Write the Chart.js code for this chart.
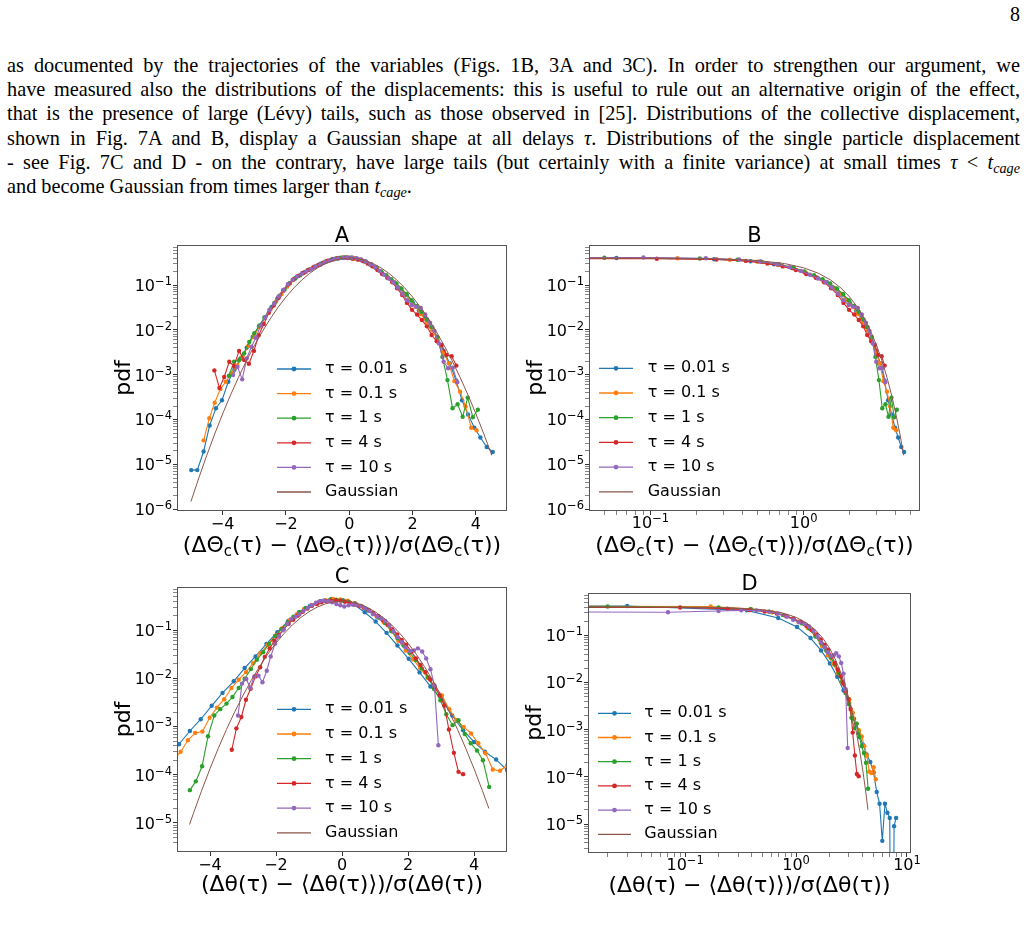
<!DOCTYPE html>
<html>
<head>
<meta charset="utf-8">
<script src="https://cdn.jsdelivr.net/npm/chart.js@4.4.1/dist/chart.umd.min.js"></script>
<style>
  body { margin: 0; background: #fff; width: 1029px; height: 928px; overflow: hidden; position: relative; }
  .pg { position: absolute; right: 9px; top: 3px; font: 20px "Liberation Serif", serif; color: #000; }
  .ln { position: absolute; left: 7px; width: 1013px; height: 24.33px; font: 20.3px/24.33px "Liberation Serif", serif;
        color: #000; text-align: justify; text-align-last: justify; }
  .ln.last { text-align-last: left; }
  .ln sub { font-size: 0.7em; vertical-align: -0.25em; line-height: 0; }
  canvas { position: absolute; }
</style>
</head>
<body>
<div class="pg">8</div>
<div class="ln" style="top:52.7px">as documented by the trajectories of the variables (Figs. 1B, 3A and 3C). In order to strengthen our argument, we</div>
<div class="ln" style="top:77.0px">have measured also the distributions of the displacements: this is useful to rule out an alternative origin of the effect,</div>
<div class="ln" style="top:101.3px">that is the presence of large (Lévy) tails, such as those observed in [25]. Distributions of the collective displacement,</div>
<div class="ln" style="top:125.7px">shown in Fig. 7A and B, display a Gaussian shape at all delays <i>τ</i>. Distributions of the single particle displacement</div>
<div class="ln" style="top:150.0px">- see Fig. 7C and D - on the contrary, have large tails (but certainly with a finite variance) at small times <i>τ</i> &lt; <i>t</i><sub><i>cage</i></sub></div>
<div class="ln last" style="top:174.3px">and become Gaussian from times larger than <i>t</i><sub><i>cage</i></sub>.</div>

<canvas id="chartA" width="425" height="340" style="left:95px;top:222px"></canvas>
<canvas id="chartB" width="425" height="340" style="left:515px;top:222px"></canvas>
<canvas id="chartC" width="425" height="340" style="left:95px;top:562px"></canvas>
<canvas id="chartD" width="425" height="340" style="left:515px;top:562px"></canvas>

<script>
// collective displacement (panels A and B)
const A_x001 = [-4.99,-4.80,-4.60,-4.41,-4.21,-4.02,-3.82,-3.63,-3.44,-3.24,-3.05,-2.85,-2.66,-2.46,-2.27,-2.08,-1.88,-1.69,-1.49,-1.30,-1.10,-0.91,-0.72,-0.52,-0.33,-0.13,0.06,0.26,0.45,0.64,0.84,1.03,1.23,1.42,1.62,1.81,2.00,2.20,2.39,2.59,2.78,2.98,3.17,3.37,3.56,3.75,3.95,4.14,4.34,4.53];
const A_y001 = [7.5e-6,7.5e-6,1.95e-5,7.4e-5,1.8e-4,2.7e-4,7.0e-4,1.3e-3,2.3e-3,4.0e-3,7.0e-3,0.012,0.019,0.032,0.050,0.077,0.110,0.145,0.183,0.218,0.255,0.300,0.340,0.375,0.400,0.410,0.400,0.375,0.340,0.290,0.240,0.185,0.145,0.115,0.084,0.060,0.041,0.027,0.018,0.0115,6.8e-3,3.4e-3,1.8e-3,7.5e-4,2.7e-4,1.3e-4,6.6e-5,4.0e-5,2.45e-5,1.9e-5];
const A_x01 = [-4.60,-4.42,-4.25,-4.07,-3.90,-3.72,-3.54,-3.37,-3.19,-3.02,-2.84,-2.66,-2.49,-2.31,-2.14,-1.96,-1.78,-1.61,-1.43,-1.26,-1.08,-0.90,-0.73,-0.55,-0.38,-0.20,-0.02,0.15,0.33,0.50,0.68,0.86,1.03,1.21,1.38,1.56,1.74,1.91,2.09,2.26,2.44,2.62,2.79,2.97,3.14,3.32,3.50,3.67,3.85,4.02];
const A_y01 = [3.45e-5,1.07e-4,2.38e-4,4.8e-4,7.0e-4,1.1e-3,1.6e-3,2.6e-3,4.4e-3,7.2e-3,0.0118,0.0185,0.029,0.043,0.063,0.092,0.128,0.16,0.19,0.22,0.255,0.29,0.335,0.37,0.395,0.41,0.41,0.395,0.365,0.33,0.28,0.235,0.19,0.148,0.118,0.088,0.064,0.047,0.033,0.0225,0.015,0.0098,6.0e-3,3.1e-3,1.8e-3,7.2e-4,4.2e-4,2.0e-4,6.6e-5,5.8e-5];
const A_x1 = [-3.80,-3.64,-3.48,-3.32,-3.16,-3.00,-2.84,-2.68,-2.52,-2.36,-2.20,-2.04,-1.88,-1.71,-1.55,-1.39,-1.23,-1.07,-0.91,-0.75,-0.59,-0.43,-0.27,-0.11,0.05,0.21,0.37,0.53,0.69,0.86,1.01,1.17,1.33,1.49,1.65,1.81,1.97,2.13,2.29,2.46,2.62,2.78,2.94,3.10,3.26,3.42,3.58,3.74,3.90,4.06];
const A_y1 = [9.5e-4,1.95e-3,2.1e-3,3.0e-3,5.4e-3,8.4e-3,0.0125,0.019,0.028,0.040,0.058,0.080,0.11,0.14,0.165,0.195,0.225,0.255,0.29,0.33,0.36,0.39,0.405,0.41,0.405,0.39,0.365,0.33,0.29,0.245,0.20,0.165,0.135,0.108,0.083,0.063,0.046,0.034,0.025,0.017,0.0115,7.0e-3,2.5e-3,7.6e-4,1.8e-4,2.2e-4,1.16e-4,3.1e-4,1.13e-4,1.66e-4];
const A_x4 = [-4.26,-4.10,-3.95,-3.79,-3.64,-3.48,-3.32,-3.17,-3.01,-2.86,-2.70,-2.54,-2.39,-2.23,-2.08,-1.92,-1.76,-1.61,-1.45,-1.30,-1.14,-0.98,-0.83,-0.67,-0.52,-0.36,-0.20,-0.05,0.11,0.27,0.42,0.58,0.73,0.89,1.04,1.20,1.36,1.51,1.67,1.82,1.98,2.14,2.29,2.45,2.60,2.76,2.92,3.07,3.23,3.38];
const A_y4 = [1.25e-3,5.1e-4,8.9e-4,1.95e-3,1.56e-3,3.4e-3,2.13e-3,1.76e-3,3.4e-3,7.6e-3,0.0135,0.024,0.035,0.052,0.075,0.104,0.135,0.16,0.185,0.215,0.245,0.28,0.315,0.35,0.375,0.395,0.405,0.40,0.385,0.37,0.345,0.30,0.26,0.215,0.175,0.145,0.115,0.085,0.060,0.040,0.028,0.022,0.0166,0.012,7.7e-3,5.6e-3,4.6e-3,2.75e-3,2.6e-3,1.6e-3];
const A_x10 = [-3.67,-3.53,-3.38,-3.24,-3.09,-2.95,-2.80,-2.66,-2.51,-2.37,-2.23,-2.08,-1.94,-1.79,-1.65,-1.50,-1.36,-1.21,-1.07,-0.92,-0.78,-0.63,-0.49,-0.35,-0.20,-0.06,0.09,0.23,0.38,0.52,0.67,0.81,0.96,1.10,1.24,1.39,1.53,1.68,1.82,1.97,2.11,2.26,2.40,2.55,2.69,2.83,2.98,3.12,3.27,3.41];
const A_y10 = [9.9e-4,1.5e-3,7.9e-4,2.3e-3,4.2e-3,6.7e-3,0.0125,0.019,0.028,0.039,0.056,0.078,0.105,0.13,0.155,0.178,0.20,0.225,0.255,0.285,0.32,0.35,0.375,0.39,0.40,0.41,0.41,0.395,0.37,0.335,0.29,0.25,0.205,0.17,0.14,0.115,0.088,0.064,0.046,0.036,0.033,0.031,0.022,0.0145,9.5e-3,5.0e-3,1.95e-3,1.4e-3,1.43e-3,6.8e-4];
const gaussXA = [-5.0,-4.75,-4.5,-4.25,-4.0,-3.75,-3.5,-3.25,-3.0,-2.75,-2.5,-2.25,-2.0,-1.75,-1.5,-1.25,-1.0,-0.75,-0.5,-0.25,0,0.05,0.1,0.25,0.5,0.75,1.0,1.25,1.5,1.75,2.0,2.25,2.5,2.75,3.0,3.25,3.5,3.75,4.0,4.25,4.5];
const gaussYA = [1.49e-6,5.03e-6,1.60e-5,4.77e-5,1.34e-4,3.53e-4,8.73e-4,2.03e-3,4.43e-3,9.09e-3,0.0175,0.0317,0.0540,0.0863,0.1295,0.1826,0.2420,0.3011,0.3521,0.3867,0.3989,0.3984,0.3970,0.3867,0.3521,0.3011,0.2420,0.1826,0.1295,0.0863,0.0540,0.0317,0.0175,9.09e-3,4.43e-3,2.03e-3,8.73e-4,3.53e-4,1.34e-4,4.77e-5,1.60e-5];

// single particle displacement (panels C and D)
const C_x001 = [-5.27,-4.94,-4.61,-4.28,-3.95,-3.62,-3.28,-2.95,-2.62,-2.29,-1.96,-1.63,-1.30,-0.97,-0.64,-0.31,0.03,0.36,0.69,1.02,1.35,1.68,2.02,2.35,2.68,3.01,3.34,3.67,4.00,4.33,4.67,5.00,5.33,5.66,5.99,6.33,6.66,6.99,7.32,7.65,7.98];
const C_y001 = [2.3e-4,4.3e-4,8.1e-4,1.42e-3,2.7e-3,5.0e-3,8.7e-3,0.0164,0.0285,0.052,0.091,0.155,0.235,0.32,0.40,0.445,0.42,0.34,0.235,0.151,0.088,0.048,0.0255,0.0133,6.8e-3,3.7e-3,1.7e-3,8.4e-4,4.8e-4,3.0e-4,2.07e-4,1.25e-4,4.8e-5,2.7e-5,4.4e-6,2.7e-5,1.74e-5,1.35e-5,0,9.0e-6,1.35e-5];
const C_x01 = [-5.11,-4.89,-4.67,-4.45,-4.23,-4.01,-3.79,-3.57,-3.35,-3.13,-2.91,-2.69,-2.47,-2.25,-2.03,-1.81,-1.59,-1.37,-1.15,-0.93,-0.71,-0.49,-0.27,-0.05,0.17,0.39,0.61,0.83,1.05,1.27,1.49,1.71,1.93,2.15,2.37,2.59,2.81,3.03,3.25,3.47,3.69,3.91,4.13,4.35,4.57,4.79,5.01,5.23];
const C_y01 = [2.0e-4,3.0e-4,5.2e-4,7.4e-4,7.9e-4,1.53e-3,2.47e-3,3.7e-3,6.3e-3,9.4e-3,0.0135,0.0207,0.0334,0.05,0.077,0.11,0.16,0.215,0.275,0.33,0.38,0.42,0.445,0.435,0.41,0.365,0.31,0.255,0.195,0.145,0.097,0.06,0.038,0.025,0.0162,0.0103,6.7e-3,4.4e-3,2.3e-3,1.35e-3,9.8e-4,7.2e-4,4.5e-4,2.8e-4,1.29e-4,1.21e-4,1.6e-4,8.9e-5];
const C_x1 = [-4.61,-4.43,-4.24,-4.06,-3.87,-3.69,-3.50,-3.32,-3.13,-2.95,-2.76,-2.58,-2.39,-2.21,-2.02,-1.84,-1.65,-1.47,-1.28,-1.10,-0.91,-0.73,-0.54,-0.36,-0.17,0.02,0.20,0.39,0.57,0.76,0.94,1.13,1.31,1.50,1.68,1.87,2.05,2.24,2.42,2.61,2.79,2.98,3.16,3.35,3.53,3.72,3.90,4.09,4.27,4.46];
const C_y1 = [4.8e-5,7.3e-5,1.5e-4,6.3e-4,1.7e-3,2.3e-3,3.0e-3,4.1e-3,6.3e-3,9.8e-3,0.0156,0.0243,0.035,0.052,0.075,0.105,0.145,0.19,0.235,0.29,0.33,0.37,0.41,0.43,0.43,0.41,0.39,0.36,0.32,0.27,0.225,0.18,0.14,0.095,0.068,0.048,0.034,0.024,0.016,0.0105,6.0e-3,3.5e-3,1.8e-3,1.07e-3,1.35e-3,7.0e-4,4.5e-4,3.2e-4,2.0e-4,5.6e-5];
const C_x4 = [-3.34,-3.20,-3.05,-2.91,-2.77,-2.62,-2.48,-2.34,-2.19,-2.05,-1.91,-1.77,-1.62,-1.48,-1.34,-1.19,-1.05,-0.91,-0.76,-0.62,-0.48,-0.34,-0.19,-0.05,0.09,0.24,0.38,0.52,0.67,0.81,0.95,1.10,1.24,1.38,1.52,1.67,1.81,1.95,2.10,2.24,2.38,2.53,2.67,2.81,2.96,3.10,3.24,3.39,3.53,3.67];
const C_y4 = [3.3e-4,9.2e-4,1.58e-3,3.6e-3,6.1e-3,0.011,0.017,0.028,0.042,0.06,0.08,0.105,0.135,0.165,0.2,0.24,0.28,0.32,0.35,0.38,0.40,0.41,0.415,0.41,0.39,0.37,0.345,0.32,0.29,0.26,0.225,0.195,0.16,0.13,0.105,0.082,0.063,0.05,0.036,0.026,0.019,0.0135,9.5e-3,6.5e-3,4.5e-3,2.75e-3,8.7e-4,2.85e-4,1.15e-4,1.03e-4];
const C_x10 = [-3.15,-3.03,-2.90,-2.78,-2.66,-2.53,-2.41,-2.28,-2.16,-2.03,-1.91,-1.79,-1.66,-1.54,-1.41,-1.29,-1.17,-1.04,-0.92,-0.79,-0.67,-0.55,-0.42,-0.30,-0.17,-0.05,0.07,0.20,0.32,0.44,0.57,0.69,0.82,0.94,1.06,1.19,1.31,1.44,1.56,1.68,1.81,1.93,2.06,2.18,2.30,2.43,2.55,2.68,2.80,2.92];
const C_y10 = [1.7e-3,7.8e-3,9.7e-3,6.4e-3,0.011,0.0114,8.3e-3,0.0144,0.0285,0.052,0.075,0.10,0.135,0.17,0.19,0.215,0.25,0.29,0.33,0.37,0.40,0.41,0.40,0.38,0.35,0.33,0.31,0.33,0.34,0.34,0.32,0.29,0.25,0.215,0.19,0.175,0.155,0.125,0.095,0.072,0.056,0.044,0.037,0.038,0.042,0.036,0.026,0.0155,7.2e-3,4.1e-4];
const gaussXC = [-4.62,-4.5,-4.25,-4.0,-3.75,-3.5,-3.25,-3.0,-2.75,-2.5,-2.25,-2.0,-1.75,-1.5,-1.25,-1.0,-0.75,-0.5,-0.25,0,0.05,0.1,0.25,0.5,0.75,1.0,1.25,1.5,1.75,2.0,2.25,2.5,2.75,3.0,3.25,3.5,3.75,4.0,4.25,4.45];
const gaussYC = [9.3e-6,1.60e-5,4.77e-5,1.34e-4,3.53e-4,8.73e-4,2.03e-3,4.43e-3,9.09e-3,0.0175,0.0317,0.0540,0.0863,0.1295,0.1826,0.2420,0.3011,0.3521,0.3867,0.3989,0.3984,0.3970,0.3867,0.3521,0.3011,0.2420,0.1826,0.1295,0.0863,0.0540,0.0317,0.0175,9.09e-3,4.43e-3,2.03e-3,8.73e-4,3.53e-4,1.34e-4,4.77e-5,2.0e-5];

const seriesLabels = ['τ = 0.01 s', 'τ = 0.1 s', 'τ = 1 s', 'τ = 4 s', 'τ = 10 s', 'Gaussian'];
const seriesColors = ['#1f77b4', '#ff7f0e', '#2ca02c', '#d62728', '#9467bd', '#8c564b'];
const linTicks = [-4, -2, 0, 2, 4];

const labelA = [['(ΔΘ', 0], ['c', 1], ['(τ) − ⟨ΔΘ', 0], ['c', 1], ['(τ)⟩)/σ(ΔΘ', 0], ['c', 1], ['(τ))', 0]];
const labelC = [['(Δθ(τ) − ⟨Δθ(τ)⟩)/σ(Δθ(τ))', 0]];

Chart.defaults.font.family = "'DejaVu Sans', sans-serif";

// zero / negative values cannot sit on a log axis: push them far off the plot
function pts(xs, ys) {
  return xs.map((x, i) => ({ x: x, y: ys[i] > 0 ? ys[i] : 1e-12 }));
}
// log-x panels: keep the positive side, plus the last negative bin pushed off to the left
function posPts(xs, ys) {
  const out = [];
  let lastNeg = -1;
  xs.forEach((x, i) => { if (x <= 0) lastNeg = i; });
  if (lastNeg >= 0) out.push({ x: 1e-6, y: ys[lastNeg] });
  xs.forEach((x, i) => { if (x > 0) out.push({ x: x, y: ys[i] > 0 ? ys[i] : 1e-12 }); });
  return out;
}

function buildSets(xsList, ysList, gx, gy, logX) {
  const mk = logX ? posPts : pts;
  const sets = xsList.map((xs, i) => ({
    label: seriesLabels[i],
    data: mk(xs, ysList[i]),
    borderColor: seriesColors[i],
    backgroundColor: seriesColors[i],
    borderWidth: 1.1,
    pointRadius: 2.2,
    pointBorderWidth: 0,
    pointHoverRadius: 0,
    order: 6 - i
  }));
  sets.push({
    label: seriesLabels[5], data: mk(gx, gy),
    borderColor: seriesColors[5], backgroundColor: seriesColors[5],
    borderWidth: 1, pointRadius: 0, order: 0
  });
  return sets;
}

function isDecade(v) { const l = Math.log10(v); return Math.abs(l - Math.round(l)) < 1e-6; }
function isNice(v) {
  if (!(v > 0)) return false;
  const e = Math.floor(Math.log10(v) + 1e-9);
  const m = v / Math.pow(10, e);
  return Math.abs(m - Math.round(m)) < 1e-6;
}

function logAxis(min, max, fit) {
  return {
    type: 'logarithmic', min: min, max: max,
    afterBuildTicks: s => { s.ticks = s.ticks.filter(t => isNice(t.value)); },
    afterFit: fit,
    border: { display: false },
    grid: {
      drawOnChartArea: false, tickLength: 4, tickColor: '#333',
      tickWidth: c => (c.tick && isDecade(c.tick.value)) ? 1 : 0.6
    },
    // decade labels (10 with a raised exponent) are drawn by panelDecor
    ticks: { autoSkip: false, maxRotation: 0, minRotation: 0, padding: 0, callback: () => '' }
  };
}

function linAxis(min, max, fit) {
  return {
    type: 'linear', min: min, max: max, afterFit: fit,
    afterBuildTicks: s => { s.ticks = linTicks.map(v => ({ value: v })); },
    border: { display: false },
    grid: { drawOnChartArea: false, tickLength: 4, tickColor: '#333', tickWidth: 1 },
    ticks: {
      autoSkip: false, maxRotation: 0, padding: 0, color: '#000', font: { size: 16 },
      callback: v => String(v).replace('-', '−')
    }
  };
}

// titles, axis labels, decade tick labels, frame and the in-plot legend
const decor = {
  chartA: { title: 'A', xLabel: labelA, titleDy: -3.3, yLabelDx: -53, xLabelDy: 41, lg: { x0: 100, x1: 134, tx: 148, y0: 124, dy: 24.6 } },
  chartB: { title: 'B', xLabel: labelA, titleDy: -3.3, yLabelDx: -53, xLabelDy: 41, lg: { x0: 10, x1: 44, tx: 58.7, y0: 123.3, dy: 24.7 } },
  chartC: { title: 'C', xLabel: labelC, titleDy: -3.7, yLabelDx: -53, xLabelDy: 38.5, lg: { x0: 100, x1: 134, tx: 148, y0: 122.3, dy: 24.7 } },
  chartD: { title: 'D', xLabel: labelC, titleDy: -3, yLabelDx: -53, xLabelDy: 39, lg: { x0: 10, x1: 43, tx: 56.3, y0: 120.3, dy: 24.2 } }
};

const MAIN = "16px 'DejaVu Sans'", EXP = "11.5px 'DejaVu Sans'";
function drawDecade(ctx, v, x, base, align) {
  const e = String(Math.round(Math.log10(v))).replace('-', '−');
  ctx.font = MAIN;
  const w1 = ctx.measureText('10').width;
  ctx.font = EXP;
  const w2 = ctx.measureText(e).width;
  const x0 = align === 'right' ? x - w1 - w2 : x - (w1 + w2) / 2;
  ctx.textAlign = 'left';
  ctx.textBaseline = 'alphabetic';
  ctx.font = MAIN;
  ctx.fillText('10', x0, base);
  ctx.font = EXP;
  ctx.fillText(e, x0 + w1, base - 6);
}

const panelDecor = {
  id: 'panelDecor',
  afterDraw(chart) {
    const o = decor[chart.canvas.id];
    const ctx = chart.ctx;
    const a = chart.chartArea;
    ctx.save();
    ctx.strokeStyle = '#555';
    ctx.lineWidth = 1;
    ctx.strokeRect(Math.round(a.left) + 0.5, Math.round(a.top) + 0.5, Math.round(a.width) - 1, Math.round(a.height) - 1);

    ctx.fillStyle = '#000';
    // decade tick labels
    const sy = chart.scales.y;
    sy.ticks.forEach(t => {
      if (isDecade(t.value)) drawDecade(ctx, t.value, a.left - 5, sy.getPixelForValue(t.value) + 5.8, 'right');
    });
    const sx = chart.scales.x;
    if (sx.type === 'logarithmic') {
      sx.ticks.forEach(t => {
        if (isDecade(t.value)) drawDecade(ctx, t.value, sx.getPixelForValue(t.value), a.bottom + 17.3, 'center');
      });
    }

    ctx.font = "21px 'DejaVu Sans'";
    ctx.textAlign = 'center';
    ctx.textBaseline = 'alphabetic';
    ctx.fillText(o.title, (a.left + a.right) / 2, a.top + o.titleDy);

    ctx.save();
    ctx.translate(a.left + o.yLabelDx, (a.top + a.bottom) / 2);
    ctx.rotate(-Math.PI / 2);
    ctx.font = "22px 'DejaVu Sans'";
    ctx.textBaseline = 'middle';
    ctx.fillText('pdf', 0, 0);
    ctx.restore();

    // x label with subscripts
    const big = "22px 'DejaVu Sans'", small = "15px 'DejaVu Sans'";
    let w = 0;
    o.xLabel.forEach(s => { ctx.font = s[1] ? small : big; w += ctx.measureText(s[0]).width; });
    let x = (a.left + a.right) / 2 - w / 2;
    const base = a.bottom + o.xLabelDy;
    ctx.textAlign = 'left';
    ctx.textBaseline = 'alphabetic';
    o.xLabel.forEach(s => {
      ctx.font = s[1] ? small : big;
      ctx.fillText(s[0], x, base + (s[1] ? 4 : 0));
      x += ctx.measureText(s[0]).width;
    });

    // legend
    const lg = o.lg;
    ctx.font = "16px 'DejaVu Sans'";
    ctx.textBaseline = 'middle';
    chart.data.datasets.forEach((ds, i) => {
      const y = a.top + lg.y0 + i * lg.dy;
      ctx.strokeStyle = ds.borderColor;
      ctx.lineWidth = 1.3;
      ctx.beginPath();
      ctx.moveTo(a.left + lg.x0, y);
      ctx.lineTo(a.left + lg.x1, y);
      ctx.stroke();
      if (ds.pointRadius > 0) {
        ctx.fillStyle = ds.borderColor;
        ctx.beginPath();
        ctx.arc(a.left + (lg.x0 + lg.x1) / 2, y, 2.4, 0, Math.PI * 2);
        ctx.fill();
      }
      ctx.fillStyle = '#000';
      ctx.fillText(ds.label, a.left + lg.tx, y);
    });
    ctx.restore();
  }
};

function panel(id, sets, xAxis, yAxis, pad) {
  new Chart(document.getElementById(id), {
    type: 'line',
    data: { datasets: sets },
    options: {
      responsive: false,
      animation: false,
      events: [],
      layout: { padding: { top: pad.top, right: pad.right, left: 0, bottom: 0 } },
      plugins: { legend: { display: false }, tooltip: { enabled: false } },
      scales: { x: xAxis, y: yAxis }
    },
    plugins: [panelDecor]
  });
}

const A_xs = [A_x001, A_x01, A_x1, A_x4, A_x10];
const A_ys = [A_y001, A_y01, A_y1, A_y4, A_y10];
const C_xs = [C_x001, C_x01, C_x1, C_x4, C_x10];
const C_ys = [C_y001, C_y01, C_y1, C_y4, C_y10];

// A
panel('chartA', buildSets(A_xs, A_ys, gaussXA, gaussYA, false),
  linAxis(-5.44, 4.98, s => { s.height = 51; }),
  logAxis(9.2e-7, 0.78, s => { s.width = 82; }),
  { top: 23, right: 13 });

// B
panel('chartB', buildSets(A_xs, A_ys, gaussXA, gaussYA, true),
  logAxis(0.0397, 5.75, s => { s.height = 51; }),
  logAxis(9.2e-7, 0.78, s => { s.width = 74; }),
  { top: 23, right: 20 });

// C
panel('chartC', buildSets(C_xs, C_ys, gaussXC, gaussYC, false),
  linAxis(-5, 5, s => { s.height = 50; }),
  logAxis(2.5e-6, 0.787, s => { s.width = 82; }),
  { top: 25, right: 13 });

// D
panel('chartD', buildSets(C_xs, C_ys, gaussXC, gaussYC, true),
  logAxis(0.0133, 10.87, s => { s.height = 49; }),
  logAxis(2.43e-6, 0.794, s => { s.width = 73; }),
  { top: 31, right: 29 });
</script>
</body>
</html>
